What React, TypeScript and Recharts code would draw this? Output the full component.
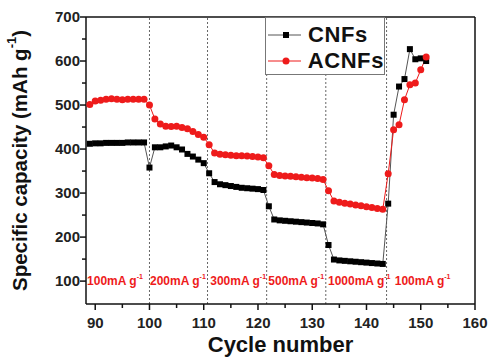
import { LineChart, Line, XAxis, YAxis, ReferenceLine, ReferenceDot, Legend } from 'recharts';

// Rate capability of CNFs vs ACNFs: capacity per cycle while the current
// density steps 100 → 200 → 300 → 500 → 1000 → 100 mA g-1.

const FONT = "Arial, 'Liberation Sans', sans-serif";
const RED = '#ee1b1b';
const INK = '#111';

const cycles = Array.from({ length: 63 }, (_, i) => 89 + i);

const cnfs = [
  412, 413, 413, 414, 414, 414, 414, 415, 415, 415, 415,
  358,
  404, 404, 406, 408, 404, 399, 389, 383, 376, 368,
  345,
  325, 320, 318, 316, 314, 312, 311, 310, 309, 307,
  270,
  240, 238, 237, 236, 235, 234, 233, 232, 231, 229,
  182,
  149, 147, 146, 145, 144, 143, 142, 141, 140, 139,
  276,
  478, 542, 559, 627, 604, 606, 600,
];

const acnfs = [
  501, 509, 511, 513, 514, 513, 512, 513, 513, 513, 513,
  500,
  468, 457, 452, 451, 452, 449, 446, 440, 433, 427,
  410,
  391, 388, 387, 386, 385, 385, 384, 383, 382, 380,
  362,
  342, 340, 339, 338, 337, 336, 335, 334, 333, 331,
  305,
  282, 279, 277, 275, 273, 271, 269, 267, 265, 263,
  344,
  444, 455, 512, 546, 550, 580, 609,
];

const seriesOrder = ['CNFs', 'ACNFs'];

// rate switches (dashed separators) and the current-density captions
const switches = [100, 110.7, 121.6, 132.5, 143.7];
const rateStarts = [88.5, 100.1, 111.2, 121.9, 132.9, 145.2];
const rateLabels = ['100mA g', '200mA g', '300mA g', '500mA g', '1000mA g', '100mA g'];

const xTicks = [90, 95, 100, 105, 110, 115, 120, 125, 130, 135, 140, 145, 150, 155, 160];
const yTicks = [100, 150, 200, 250, 300, 350, 400, 450, 500, 550, 600, 650, 700];

const data = cycles.map((c, i) => ({ cycle: c, CNFs: cnfs[i], ACNFs: acnfs[i] }));

function XTick({ x, y, payload }: any) {
  const major = payload.value % 10 === 0;
  return (
    <g>
      <line x1={x} x2={x} y1={y} y2={y + (major ? 6 : 4)} stroke={INK} strokeWidth={1.5} />
      {major && (
        <text x={x} y={y + 24} textAnchor="middle" fontFamily={FONT} fontWeight="bold" fontSize={15} fill="#222">
          {payload.value}
        </text>
      )}
    </g>
  );
}

function YTick({ x, y, payload }: any) {
  const major = payload.value % 100 === 0;
  return (
    <g>
      <line x1={x} x2={x - (major ? 6 : 4)} y1={y} y2={y} stroke={INK} strokeWidth={1.5} />
      {major && (
        <text x={x - 6} y={y + 5} textAnchor="end" fontFamily={FONT} fontWeight="bold" fontSize={15} fill="#222">
          {payload.value}
        </text>
      )}
    </g>
  );
}

function YTitle({ viewBox }: any) {
  const cx = viewBox.x + 19;
  const cy = viewBox.y + viewBox.height / 2;
  return (
    <text x={cx} y={cy} transform={`rotate(-90 ${cx} ${cy})`} textAnchor="middle" dominantBaseline="central"
      fontFamily={FONT} fontWeight="bold" fontSize={20.5} fill={INK}>
      Specific capacity (mAh g<tspan dy={-8} fontSize={13}>-1</tspan><tspan dy={8}>)</tspan>
    </text>
  );
}

function XTitle({ viewBox }: any) {
  return (
    <text x={viewBox.x + viewBox.width / 2} y={viewBox.y + 48} textAnchor="middle"
      fontFamily={FONT} fontWeight="bold" fontSize={22} fill={INK}>
      Cycle number
    </text>
  );
}

function RateLabel({ viewBox, text }: any) {
  return (
    <text x={viewBox.cx ?? viewBox.x} y={(viewBox.cy ?? viewBox.y) + 4} fontFamily={FONT} fontWeight="bold" fontSize={12} fill={RED}>
      {text}<tspan dy={-6} fontSize={7}>-1</tspan>
    </text>
  );
}

function Square(p: any) {
  if (p.cx == null || p.cy == null) return <g key={`sq-${p.index}`} />;
  return <rect key={`sq-${p.index}`} x={p.cx - 3} y={p.cy - 3} width={6} height={6} fill="#000" />;
}

function LegendBox({ payload }: any) {
  const items = [...(payload || [])].sort(
    (a: any, b: any) => seriesOrder.indexOf(a.dataKey) - seriesOrder.indexOf(b.dataKey),
  );
  return (
    <div style={{ width: 120, height: 58, boxSizing: 'border-box', border: '1px solid #777', background: '#fff', paddingTop: 4 }}>
      {items.map((e: any) => {
        const black = e.dataKey === 'CNFs';
        return (
          <div key={e.value} style={{ display: 'flex', alignItems: 'center', height: 26 }}>
            <svg width={40} height={14} style={{ marginLeft: 2 }}>
              <line x1={0} x2={33} y1={7} y2={7} stroke={black ? '#555' : RED} strokeWidth={1} />
              {black ? <rect x={15} y={4} width={6} height={6} fill="#000" /> : <circle cx={18} cy={7} r={3.5} fill={RED} />}
            </svg>
            <span style={{ fontFamily: FONT, fontWeight: 'bold', fontSize: 22, letterSpacing: 0.6, color: INK, lineHeight: '26px' }}>{e.value}</span>
          </div>
        );
      })}
    </div>
  );
}

export default function App() {
  return (
    <div style={{ position: 'absolute', left: 0, top: 0, background: '#fff' }}>
      <LineChart width={489} height={357} data={data} margin={{ top: 17, right: 14, bottom: 0, left: 0 }}>
        <XAxis dataKey="cycle" type="number" domain={[88.3, 160]} ticks={xTicks} interval={0} allowDataOverflow
          tickSize={0} tickMargin={0} tick={<XTick />} axisLine={{ stroke: INK, strokeWidth: 1.5 }} height={53}
          label={<XTitle />} />
        <YAxis type="number" domain={[48, 700]} ticks={yTicks} interval={0} allowDataOverflow
          tickSize={0} tickMargin={0} tick={<YTick />} axisLine={{ stroke: INK, strokeWidth: 1.5 }} width={86}
          label={<YTitle />} />
        <ReferenceLine y={700} stroke={INK} strokeWidth={1.5} />
        <ReferenceLine x={160} stroke={INK} strokeWidth={1.5} />
        {switches.map((s) => (
          <ReferenceLine key={s} x={s} stroke="#666" strokeWidth={1} strokeDasharray="2 2" />
        ))}
        {rateStarts.map((s, i) => (
          <ReferenceDot key={`r${i}`} x={s} y={100} r={0} label={<RateLabel text={rateLabels[i]} />} />
        ))}
        <Line dataKey="CNFs" name="CNFs" stroke="#555" strokeWidth={1} dot={Square} activeDot={false} isAnimationActive={false} />
        <Line dataKey="ACNFs" name="ACNFs" stroke={RED} strokeWidth={1} dot={{ r: 3.5, fill: RED, stroke: RED, strokeWidth: 0 }} activeDot={false} isAnimationActive={false} />
        <Legend layout="horizontal" verticalAlign="middle" align="center" content={<LegendBox />}
          wrapperStyle={{ left: 265, top: 17, width: 120, height: 58 }} />
      </LineChart>
    </div>
  );
}
